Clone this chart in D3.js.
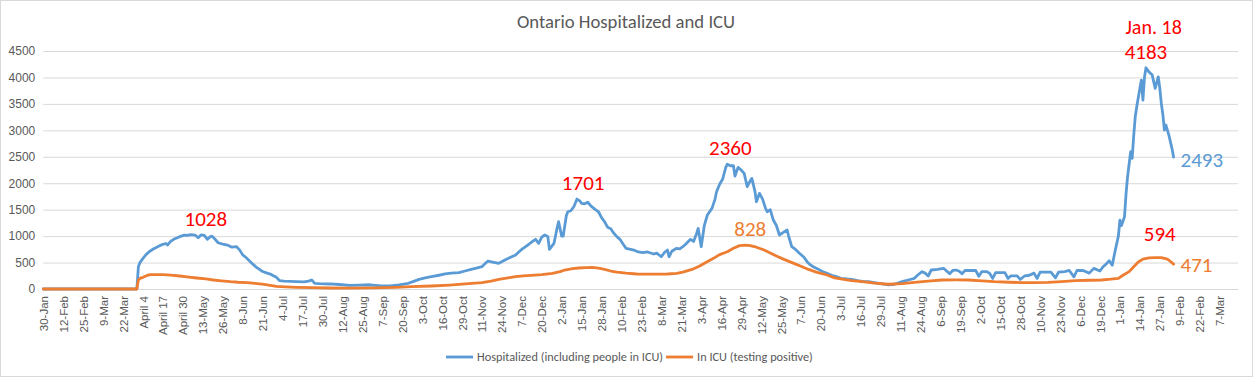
<!DOCTYPE html>
<html>
<head>
<meta charset="utf-8">
<script src="https://cdn.jsdelivr.net/npm/d3@7"></script>
<style>
  body { margin: 0; background: #fff; }
  svg { display: block; font-family: Carlito, Calibri, Lato, "Open Sans", sans-serif; }
</style>
</head>
<body>
<svg id="chart" width="1255" height="378"></svg>
<script>
// Values
const hospDates = [
  '2020-01-30','2020-03-31','2020-04-01','2020-04-02','2020-04-04','2020-04-06','2020-04-08','2020-04-11','2020-04-13','2020-04-15',
  '2020-04-17','2020-04-19','2020-04-20','2020-04-22','2020-04-24','2020-04-26','2020-04-28','2020-05-01','2020-05-03','2020-05-05',
  '2020-05-08','2020-05-10','2020-05-12','2020-05-14','2020-05-16','2020-05-18','2020-05-19','2020-05-21','2020-05-23','2020-05-26',
  '2020-05-29','2020-06-01','2020-06-04','2020-06-06','2020-06-08','2020-06-10','2020-06-13','2020-06-15','2020-06-17','2020-06-19',
  '2020-06-21','2020-06-24','2020-06-26','2020-06-28','2020-06-30','2020-07-02','2020-07-05','2020-07-09','2020-07-13','2020-07-18',
  '2020-07-21','2020-07-23','2020-07-25','2020-07-28','2020-08-04','2020-08-10','2020-08-17','2020-08-23','2020-08-30','2020-09-06',
  '2020-09-12','2020-09-18','2020-09-24','2020-09-28','2020-10-01','2020-10-05','2020-10-09','2020-10-14','2020-10-18','2020-10-22',
  '2020-10-27','2020-10-31','2020-11-04','2020-11-08','2020-11-11','2020-11-13','2020-11-15','2020-11-18','2020-11-22','2020-11-26',
  '2020-11-29','2020-12-03','2020-12-05','2020-12-07','2020-12-09','2020-12-11','2020-12-14','2020-12-16','2020-12-18','2020-12-20',
  '2020-12-22','2020-12-24','2020-12-25','2020-12-28','2020-12-30','2020-12-31','2021-01-02','2021-01-03','2021-01-05','2021-01-06',
  '2021-01-08','2021-01-10','2021-01-12','2021-01-14','2021-01-15','2021-01-17','2021-01-19','2021-01-21','2021-01-24','2021-01-26',
  '2021-01-28','2021-01-30','2021-02-01','2021-02-03','2021-02-05','2021-02-07','2021-02-09','2021-02-11','2021-02-13','2021-02-16',
  '2021-02-18','2021-02-21','2021-02-24','2021-02-27','2021-03-01','2021-03-03','2021-03-05','2021-03-08','2021-03-10','2021-03-12',
  '2021-03-13','2021-03-15','2021-03-18','2021-03-20','2021-03-22','2021-03-24','2021-03-27','2021-03-29','2021-03-31','2021-04-01',
  '2021-04-03','2021-04-05','2021-04-07','2021-04-10','2021-04-12','2021-04-13','2021-04-15','2021-04-17','2021-04-19','2021-04-20',
  '2021-04-22','2021-04-24','2021-04-25','2021-04-27','2021-04-29','2021-05-01','2021-05-03','2021-05-05','2021-05-06','2021-05-08',
  '2021-05-09','2021-05-11','2021-05-13','2021-05-15','2021-05-16','2021-05-18','2021-05-20','2021-05-22','2021-05-24','2021-05-27',
  '2021-05-29','2021-05-30','2021-06-01','2021-06-03','2021-06-06','2021-06-09','2021-06-11','2021-06-13','2021-06-15','2021-06-18',
  '2021-06-21','2021-06-24','2021-06-27','2021-06-30','2021-07-03','2021-07-07','2021-07-10','2021-07-14','2021-07-18','2021-07-21',
  '2021-07-25','2021-07-29','2021-08-03','2021-08-07','2021-08-12','2021-08-16','2021-08-20','2021-08-22','2021-08-25','2021-08-27',
  '2021-08-29','2021-08-31','2021-09-04','2021-09-08','2021-09-10','2021-09-12','2021-09-14','2021-09-16','2021-09-18','2021-09-20',
  '2021-09-22','2021-09-26','2021-09-29','2021-10-01','2021-10-03','2021-10-06','2021-10-08','2021-10-10','2021-10-12','2021-10-15',
  '2021-10-18','2021-10-20','2021-10-22','2021-10-26','2021-10-28','2021-10-31','2021-11-03','2021-11-06','2021-11-08','2021-11-10',
  '2021-11-14','2021-11-17','2021-11-20','2021-11-22','2021-11-26','2021-11-29','2021-12-02','2021-12-04','2021-12-08','2021-12-12',
  '2021-12-15','2021-12-19','2021-12-21','2021-12-23','2021-12-25','2021-12-27','2021-12-29','2021-12-31','2022-01-01','2022-01-02',
  '2022-01-04','2022-01-05','2022-01-06','2022-01-08','2022-01-09','2022-01-10','2022-01-11','2022-01-12','2022-01-14','2022-01-15',
  '2022-01-16','2022-01-17','2022-01-18','2022-01-20','2022-01-22','2022-01-24','2022-01-26','2022-01-27','2022-01-28','2022-01-29',
  '2022-01-30','2022-01-31','2022-02-02','2022-02-04','2022-02-05'
];
const hospValues = [
  0, 0, 420, 500, 580, 650, 705, 760, 790, 820,
  845, 860, 830, 900, 940, 965, 990, 1020, 1015, 1028,
  1020, 970, 1025, 1015, 940, 990, 1000, 940, 875, 850,
  830, 790, 800, 740, 645, 600, 517, 460, 410, 370,
  330, 300, 283, 250, 220, 160, 150, 145, 140, 135,
  150, 170, 107, 100, 95, 85, 70, 75, 80, 60,
  60, 76, 108, 150, 183, 210, 233, 260, 284, 300,
  308, 340, 372, 400, 421, 480, 529, 510, 485, 548,
  590, 643, 700, 750, 790, 832, 900, 939, 864, 980,
  1021, 990, 750, 864, 1150, 1272, 1000, 1000, 1380, 1461,
  1480, 1560, 1701, 1660, 1620, 1610, 1640, 1570, 1500, 1461,
  1350, 1272, 1166, 1140, 1053, 990, 939, 850, 769, 750,
  737, 700, 686, 700, 680, 661, 680, 610, 690, 737,
  610, 720, 769, 760, 800, 850, 939, 900, 1050, 1147,
  800, 1200, 1399, 1525, 1700, 1839, 1980, 2080, 2300, 2360,
  2330, 2330, 2136, 2300, 2250, 2187, 1934, 2050, 2092, 1850,
  1650, 1809, 1700, 1520, 1461, 1500, 1304, 1200, 1021, 1080,
  1115, 1000, 800, 760, 675, 600, 517, 460, 421, 380,
  330, 297, 260, 235, 202, 190, 183, 160, 140, 138,
  120, 100, 76, 90, 138, 170, 202, 260, 328, 300,
  246, 359, 370, 391, 340, 290, 350, 359, 340, 290,
  350, 350, 350, 240, 330, 330, 300, 200, 310, 310,
  310, 200, 250, 250, 180, 250, 260, 300, 200, 320,
  320, 320, 210, 320, 330, 350, 230, 350, 350, 300,
  390, 340, 420, 470, 535, 450, 737, 1000, 1304, 1200,
  1367, 1800, 2123, 2596, 2470, 2900, 3257, 3450, 3793, 3950,
  3572, 4000, 4183, 4100, 4050, 3793, 4012, 3800, 3509, 3300,
  3005, 3100, 2900, 2650, 2493
];

const icuDates = [
  '2020-01-30','2020-03-31','2020-04-01','2020-04-02','2020-04-04','2020-04-07','2020-04-09','2020-04-13','2020-04-17','2020-04-22',
  '2020-04-28','2020-05-04','2020-05-09','2020-05-15','2020-05-20','2020-05-25','2020-05-31','2020-06-05','2020-06-11','2020-06-16',
  '2020-06-22','2020-06-26','2020-06-30','2020-07-06','2020-07-13','2020-07-23','2020-08-04','2020-08-17','2020-09-01','2020-09-16',
  '2020-09-26','2020-10-09','2020-10-21','2020-10-31','2020-11-11','2020-11-17','2020-11-22','2020-11-28','2020-12-03','2020-12-08',
  '2020-12-13','2020-12-20','2020-12-27','2021-01-01','2021-01-04','2021-01-09','2021-01-13','2021-01-18','2021-01-22','2021-01-26',
  '2021-01-30','2021-02-03','2021-02-07','2021-02-13','2021-02-20','2021-02-28','2021-03-05','2021-03-12','2021-03-18','2021-03-22',
  '2021-03-28','2021-04-02','2021-04-06','2021-04-11','2021-04-15','2021-04-20','2021-04-24','2021-04-28','2021-05-02','2021-05-05',
  '2021-05-09','2021-05-14','2021-05-18','2021-05-22','2021-05-27','2021-06-02','2021-06-07','2021-06-12','2021-06-17','2021-06-24',
  '2021-06-29','2021-07-03','2021-07-10','2021-07-17','2021-07-25','2021-08-03','2021-08-12','2021-08-20','2021-08-29','2021-09-07',
  '2021-09-16','2021-09-24','2021-10-03','2021-10-11','2021-10-21','2021-10-29','2021-11-06','2021-11-15','2021-11-24','2021-12-03',
  '2021-12-12','2021-12-20','2021-12-26','2021-12-31','2022-01-03','2022-01-07','2022-01-10','2022-01-13','2022-01-16','2022-01-20',
  '2022-01-24','2022-01-28','2022-02-01','2022-02-03','2022-02-05'
];
const icuValues = [
  0, 0, 170, 200, 221, 260, 270, 272, 270, 262,
  246, 225, 208, 190, 170, 155, 138, 128, 120, 105,
  88, 70, 50, 40, 32, 25, 19, 17, 20, 30,
  43, 57, 75, 95, 120, 150, 183, 210, 233, 248,
  259, 270, 297, 330, 359, 385, 397, 405, 410, 395,
  370, 340, 320, 300, 284, 280, 280, 284, 295, 320,
  370, 435, 500, 580, 650, 705, 770, 820, 828, 820,
  790, 737, 680, 624, 560, 490, 430, 370, 320, 265,
  210, 190, 160, 138, 110, 90, 100, 126, 150, 170,
  172, 170, 155, 138, 128, 120, 122, 126, 140, 157,
  165, 170, 185, 202, 260, 328, 420, 510, 565, 590,
  594, 594, 565, 520, 471
];

const seriesNames = ['Hospitalized (including people in ICU)', 'In ICU (testing positive)'];
const seriesColors = ['#5B9BD5', '#ED7D31'];

const tickLabels = [
  '30-Jan','12-Feb','25-Feb','9-Mar','22-Mar','April 4','April 17','April 30','13-May','26-May',
  '8-Jun','21-Jun','4-Jul','17-Jul','30-Jul','12-Aug','25-Aug','7-Sep','20-Sep','3-Oct',
  '16-Oct','29-Oct','11-Nov','24-Nov','7-Dec','20-Dec','2-Jan','15-Jan','28-Jan','10-Feb',
  '23-Feb','8-Mar','21-Mar','3-Apr','16-Apr','29-Apr','12-May','25-May','7-Jun','20-Jun',
  '3-Jul','16-Jul','29-Jul','11-Aug','24-Aug','6-Sep','19-Sep','2-Oct','15-Oct','28-Oct',
  '10-Nov','23-Nov','6-Dec','19-Dec','1-Jan','14-Jan','27-Jan','9-Feb','22-Feb','7-Mar'
];
const yTicks = [0, 500, 1000, 1500, 2000, 2500, 3000, 3500, 4000, 4500];

// Callouts: text, anchor date, anchor value
const callouts = [
  { text: '1028', date: '2020-05-15', value: 1028, color: 'red' },
  { text: '1701', date: '2021-01-16', value: 1701, color: 'red' },
  { text: '2360', date: '2021-04-22', value: 2360, color: 'red' },
  { text: '828', date: '2021-05-05', value: 828, color: '#ED7D31' },
  { text: '4183', date: '2022-01-18', value: 4183, color: 'red' },
  { text: 'Jan. 18', date: '2022-01-23', value: 4183, color: 'red', lift: 34, size: 20 },
  { text: '594', date: '2022-01-27', value: 594, color: 'red', lift: 17 }
];
const endLabels = [
  { text: '2493', value: 2493, color: '#5B9BD5', drop: 10 },
  { text: '471', value: 471, color: '#ED7D31', drop: 8 }
];

const plot = { left: 43.3, right: 1238, top: 51, bottom: 289 };

const parse = d3.utcParse('%Y-%m-%d');
const start = parse('2020-01-30');

const svg = d3.select('#chart');

// chart frame
svg.append('rect')
  .attr('x', 0.5).attr('y', 0.5)
  .attr('width', 1252).attr('height', 376)
  .attr('fill', '#fff')
  .attr('stroke', '#D9D9D9');

const x = d3.scaleUtc()
  .domain([start, d3.utcDay.offset(start, 779)])
  .range([plot.left, plot.right]);

const y = d3.scaleLinear()
  .domain([0, 4500])
  .range([plot.bottom, plot.top]);

// gridlines + y labels
const yAxis = d3.axisLeft(y)
  .tickValues(yTicks)
  .tickFormat(d3.format('d'))
  .tickSize(-(plot.right - plot.left))
  .tickPadding(8);

const gy = svg.append('g')
  .attr('transform', `translate(${plot.left},0)`)
  .call(yAxis);
gy.select('.domain').remove();
gy.selectAll('.tick line').attr('stroke', '#D9D9D9');
gy.selectAll('.tick text')
  .attr('fill', '#595959')
  .attr('font-size', 12)
  .attr('font-family', 'inherit');

// x axis labels
const tickDates = tickLabels.map((_, i) => d3.utcDay.offset(start, 13 * i));
const xAxis = d3.axisBottom(x)
  .tickValues(tickDates)
  .tickSize(0)
  .tickFormat((d, i) => tickLabels[i]);

const gx = svg.append('g')
  .attr('transform', `translate(0,${plot.bottom})`)
  .call(xAxis);
gx.select('.domain').remove();
gx.selectAll('.tick text')
  .attr('fill', '#595959')
  .attr('font-size', 11.5)
  .attr('font-family', 'inherit')
  .attr('text-anchor', 'end')
  .attr('transform', 'rotate(-90)')
  .attr('x', -7)
  .attr('y', 0)
  .attr('dy', '0.35em');

// lines
const line = d3.line()
  .x(d => x(d[0]))
  .y(d => y(d[1]));

const hospData = hospDates.map((d, i) => [parse(d), hospValues[i]]);
const icuData = icuDates.map((d, i) => [parse(d), icuValues[i]]);

[hospData, icuData].forEach((data, i) => {
  svg.append('path')
    .datum(data)
    .attr('fill', 'none')
    .attr('stroke', seriesColors[i])
    .attr('stroke-width', 2.8)
    .attr('stroke-linejoin', 'round')
    .attr('stroke-linecap', 'round')
    .attr('d', line);
});

// title
svg.append('text')
  .attr('x', 626)
  .attr('y', 28)
  .attr('text-anchor', 'middle')
  .attr('fill', '#595959')
  .attr('font-size', 18.7)
  .text('Ontario Hospitalized and ICU');

// callouts above peaks
svg.append('g')
  .selectAll('text')
  .data(callouts)
  .join('text')
  .attr('x', d => x(parse(d.date)))
  .attr('y', d => y(d.value) - (d.lift || 9))
  .attr('text-anchor', 'middle')
  .attr('fill', d => d.color)
  .attr('font-size', d => d.size || 21)
  .text(d => d.text);

// end labels
const lastDate = parse(hospDates[hospDates.length - 1]);
svg.append('g')
  .selectAll('text')
  .data(endLabels)
  .join('text')
  .attr('x', x(lastDate) + 7)
  .attr('y', d => y(d.value) + d.drop)
  .attr('fill', d => d.color)
  .attr('font-size', 21)
  .text(d => d.text);

// legend
const legend = svg.append('g').attr('transform', 'translate(446,357)');
let lx = 0;
seriesNames.forEach((name, i) => {
  legend.append('line')
    .attr('x1', lx).attr('x2', lx + 27)
    .attr('stroke', seriesColors[i])
    .attr('stroke-width', 2.8);
  const t = legend.append('text')
    .attr('x', lx + 31)
    .attr('dy', '0.35em')
    .attr('fill', '#595959')
    .attr('font-size', 12.3)
    .text(name);
  lx += 31 + t.node().getComputedTextLength() + 3;
});
</script>
</body>
</html>
